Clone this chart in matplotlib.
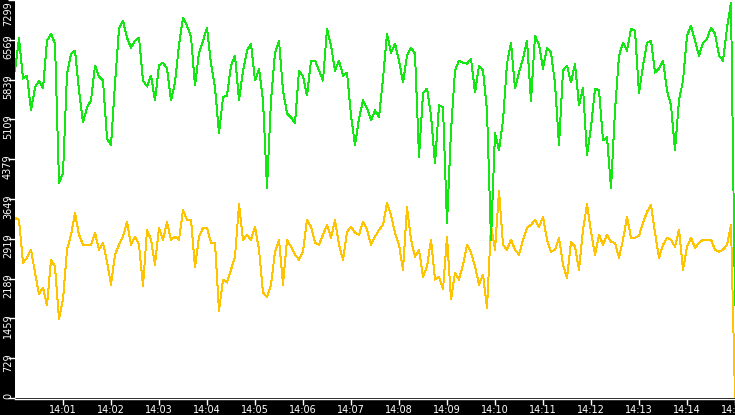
import numpy as np
import matplotlib
matplotlib.use('Agg')
import matplotlib.pyplot as plt
import matplotlib.transforms as mtransforms

# one reading every 5 seconds from 14:00:00 to 14:15:00
step = 5

green = [6004, 6600, 5858, 5913, 5274, 5694, 5822, 5676, 6552, 6680,
         6497, 3950, 4124, 5950, 6315, 6369, 5640, 5055, 5329, 5457,
         6095, 5895, 5822, 4763, 4635, 5767, 6771, 6917, 6606, 6424,
         6552, 6606, 5822, 5712, 5913, 5457, 6100, 6150, 6041, 5457,
         5785, 6479, 6972, 6826, 6625, 5731, 6333, 6552, 6789, 6132,
         5694, 4850, 5512, 5548, 6095, 6278, 5457, 6004, 6369, 6500,
         5822, 6041, 5457, 3850, 5457, 6333, 6552, 5640, 5220, 5147,
         5037, 6004, 5895, 5548, 6187, 6187, 6004, 5822, 6771, 6461,
         6004, 6187, 5913, 5968, 5183, 4635, 5128, 5457, 5311, 5092,
         5274, 5147, 5858, 6680, 6333, 6497, 6187, 5785, 6278, 6424,
         6315, 4417, 5585, 5676, 5183, 4300, 5366, 5329, 3200, 4900,
         6004, 6187, 6150, 6132, 6223, 5603, 6095, 6004, 5274, 2900,
         4855, 4544, 5092, 6132, 6515, 5676, 5968, 6223, 6552, 5450,
         6643, 6479, 6041, 6424, 6333, 5767, 4635, 6004, 6095, 5785,
         6132, 5366, 5694, 4450, 4964, 5676, 5640, 4727, 4782, 3850,
         5274, 6278, 6515, 6369, 6771, 6734, 5585, 6095, 6515, 6552,
         5968, 6041, 6187, 5640, 5366, 4544, 5457, 5822, 6643, 6826,
         6552, 6278, 6515, 6588, 6789, 6680, 6278, 6187, 6789, 7250,
         1700]

yellow = [3300, 3267, 2482, 2573, 2719, 2300, 1900, 2026, 1700, 2537,
          2409, 1450, 1807, 2719, 2993, 3395, 2993, 2810, 2810, 2810,
          3030, 2719, 2847, 2500, 2080, 2628, 2810, 2957, 3230, 2810,
          2957, 2810, 2050, 3084, 2902, 2446, 3121, 2902, 3230, 2902,
          2957, 2902, 3449, 3267, 3267, 2400, 2957, 3121, 3121, 2847,
          2847, 1600, 2172, 2117, 2354, 2591, 3550, 2902, 2993, 2902,
          3139, 2719, 1935, 1850, 2080, 2683, 2902, 2080, 2902, 2774,
          2628, 2537, 2683, 3267, 3139, 2847, 2810, 2993, 3176, 2938,
          3267, 2810, 2537, 3048, 3139, 3030, 2993, 3230, 3084, 2810,
          2957, 3084, 3176, 3577, 3358, 3030, 2810, 2350, 3500, 2902,
          2591, 2719, 2227, 2409, 2902, 2172, 2227, 1990, 2957, 1807,
          2300, 2172, 2446, 2810, 2665, 2409, 2080, 2263, 1650, 3176,
          2719, 3800, 2810, 2719, 2902, 2719, 2628, 2902, 3121, 3176,
          3267, 3139, 3322, 2902, 2683, 2719, 2938, 2446, 2200, 2865,
          2774, 2354, 3084, 3550, 3048, 2628, 2993, 2810, 2993, 2865,
          2847, 2573, 2902, 3322, 2938, 2938, 2975, 3212, 3413, 3541,
          3030, 2573, 2810, 2938, 2902, 2774, 3084, 2354, 2774, 2938,
          2756, 2847, 2902, 2902, 2902, 2719, 2683, 2719, 2810, 3176,
          0]

ymax = 7299
yticks = [0, 729, 1459, 2189, 2919, 3649, 4379, 5109, 5839, 6569, 7299]
minutes = list(range(1, 16))

t = np.arange(len(green)) * step

W, H = 735, 415
fig = plt.figure(figsize=(W / 100, H / 100), dpi=100, facecolor='black')
ax = fig.add_axes([15 / W, 17 / H, 720 / W, 398 / H])
ax.set_facecolor('white')

ax.plot(t, yellow, color='#ffc400', lw=0.7, antialiased=False)
ax.plot(t, green, color='#14e614', lw=0.7, antialiased=False)

ax.set_xlim(0, 900)
ax.set_ylim(0, ymax)

for s in ['top', 'right', 'left']:
    ax.spines[s].set_visible(False)
ax.spines['bottom'].set_color('white')
ax.spines['bottom'].set_linewidth(1)
ax.spines['bottom'].set_position(('outward', 1))

ax.set_xticks([m * 60 for m in minutes])
ax.set_xticklabels(['14:%02d' % m for m in minutes])
ax.tick_params(axis='x', colors='white', length=4, width=1, pad=0, labelsize=7)

# y labels sit in the black strip, rotated, just below their tick
ax.set_yticks(yticks)
ax.set_yticklabels([])
ax.tick_params(axis='y', colors='white', length=5, width=1)
for v in yticks:
    dy = 5 if v < ymax else -1
    tr = mtransforms.offset_copy(ax.get_yaxis_transform(), fig=fig,
                                 x=-7, y=dy, units='dots')
    ax.text(0, v, str(v), transform=tr, rotation=90, ha='center', va='top',
            color='white', fontsize=7, clip_on=False)

plt.savefig('out.png', dpi=100, facecolor='black')
